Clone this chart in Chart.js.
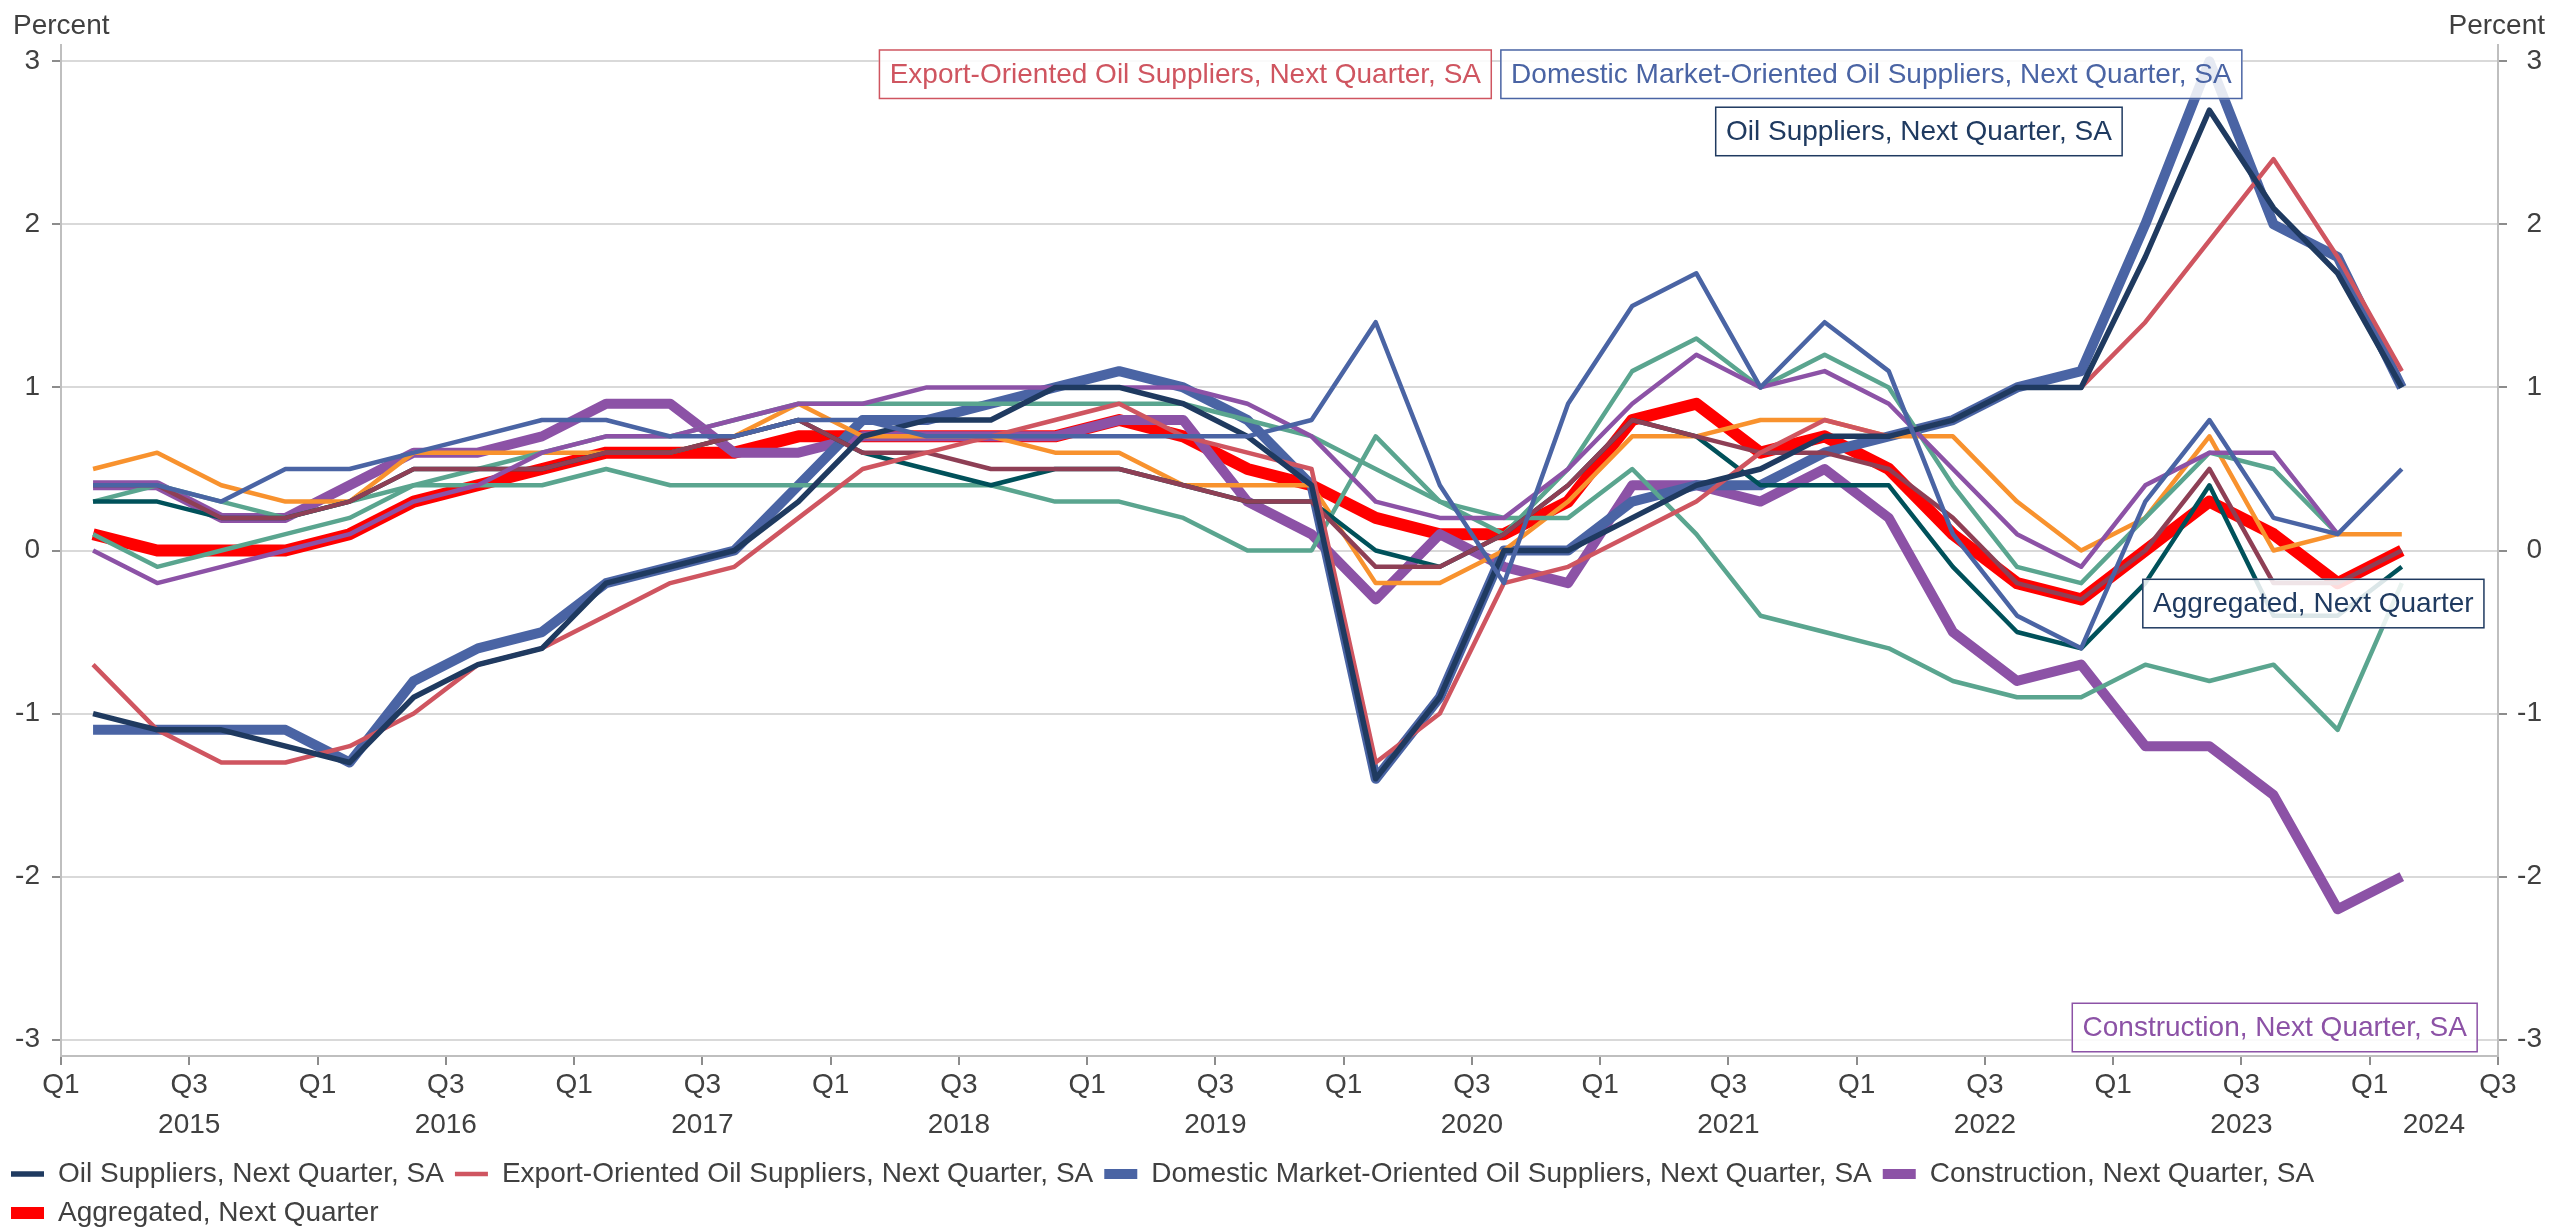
<!DOCTYPE html>
<html>
<head>
<meta charset="utf-8">
<title>Next-quarter expectations, percent</title>
<script src="https://cdn.jsdelivr.net/npm/chart.js@4.4.1/dist/chart.umd.min.js"></script>
<style>
  html, body { margin: 0; padding: 0; background: #fff; }
  canvas { display: block; }
</style>
</head>
<body>
<canvas id="chart" width="2552" height="1228"></canvas>
<script>
// ---------- Data (one value per quarter, 2015Q1 .. 2024Q1) ----------
const QUARTERS = [
  '2015Q1','2015Q2','2015Q3','2015Q4','2016Q1','2016Q2','2016Q3','2016Q4',
  '2017Q1','2017Q2','2017Q3','2017Q4','2018Q1','2018Q2','2018Q3','2018Q4',
  '2019Q1','2019Q2','2019Q3','2019Q4','2020Q1','2020Q2','2020Q3','2020Q4',
  '2021Q1','2021Q2','2021Q3','2021Q4','2022Q1','2022Q2','2022Q3','2022Q4',
  '2023Q1','2023Q2','2023Q3','2023Q4','2024Q1',
];

const OIL_SUPPLIERS = [-1.0,-1.1,-1.1,-1.2,-1.3,-0.9,-0.7,-0.6,-0.2,-0.1, 0.0,0.3,0.7,0.8,0.8,1.0,1.0,0.9,0.7,0.4,
  -1.4,-0.9,0.0,0.0,0.2,0.4,0.5,0.7,0.7,0.8, 1.0,1.0,1.8,2.7,2.1,1.7,1.0];
const EXPORT_OIL = [-0.7,-1.1,-1.3,-1.3,-1.2,-1.0,-0.7,-0.6,-0.4,-0.2, -0.1,0.2,0.5,0.6,0.7,0.8,0.9,0.7,0.6,0.5,
  -1.3,-1.0,-0.2,-0.1,0.1,0.3,0.6,0.8,0.7,0.8, 1.0,1.0,1.4,1.9,2.4,1.8,1.1];
const DOMESTIC_OIL = [-1.1,-1.1,-1.1,-1.1,-1.3,-0.8,-0.6,-0.5,-0.2,-0.1, 0.0,0.4,0.8,0.8,0.9,1.0,1.1,1.0,0.8,0.4,
  -1.4,-0.9,0.0,0.0,0.3,0.4,0.4,0.6,0.7,0.8, 1.0,1.1,2.0,3.0,2.0,1.8,1.0];
const CONSTRUCTION = [0.4,0.4,0.2,0.2,0.4,0.6,0.6,0.7,0.9,0.9, 0.6,0.6,0.7,0.7,0.7,0.7,0.8,0.8,0.3,0.1,
  -0.3,0.1,-0.1,-0.2,0.4,0.4,0.3,0.5,0.2,-0.5, -0.8,-0.7,-1.2,-1.2,-1.5,-2.2,-2.0];
const AGGREGATED = [0.1,0.0,0.0,0.0,0.1,0.3,0.4,0.5,0.6,0.6, 0.6,0.7,0.7,0.7,0.7,0.7,0.8,0.7,0.5,0.4,
  0.2,0.1,0.1,0.3,0.8,0.9,0.6,0.7,0.5,0.1, -0.2,-0.3,0.0,0.3,0.1,-0.2,0.0];

// other sectors shown in the chart without a legend entry
const OTHER_ORANGE = [0.5,0.6,0.4,0.3,0.3,0.6,0.6,0.6,0.6,0.6, 0.7,0.9,0.7,0.7,0.7,0.6,0.6,0.4,0.4,0.4,
  -0.2,-0.2,0.0,0.3,0.7,0.7,0.8,0.8,0.7,0.7, 0.3,0.0,0.2,0.7,0.0,0.1,0.1];
const OTHER_MAROON = [0.4,0.4,0.2,0.2,0.3,0.5,0.5,0.5,0.6,0.6, 0.7,0.8,0.6,0.6,0.5,0.5,0.5,0.4,0.3,0.3,
  -0.1,-0.1,0.1,0.4,0.8,0.7,0.6,0.6,0.5,0.2, -0.2,-0.3,0.0,0.5,-0.2,-0.2,0.0];
const OTHER_DARK_TEAL = [0.3,0.3,0.2,0.2,0.3,0.5,0.5,0.5,0.6,0.6, 0.7,0.8,0.6,0.5,0.4,0.5,0.5,0.4,0.3,0.3,
  0.0,-0.1,0.1,0.4,0.8,0.7,0.4,0.4,0.4,-0.1, -0.5,-0.6,-0.2,0.4,-0.4,-0.4,-0.1];
const OTHER_TEAL_LOW = [0.3,0.4,0.3,0.2,0.3,0.4,0.4,0.4,0.5,0.4, 0.4,0.4,0.4,0.4,0.4,0.3,0.3,0.2,0.0,0.0,
  0.7,0.3,0.2,0.2,0.5,0.1,-0.4,-0.5,-0.6,-0.8, -0.9,-0.9,-0.7,-0.8,-0.7,-1.1,-0.2];
const OTHER_TEAL_HIGH = [0.1,-0.1,0.0,0.1,0.2,0.4,0.5,0.6,0.7,0.7, 0.8,0.9,0.9,0.9,0.9,0.9,0.9,0.9,0.8,0.7,
  0.5,0.3,0.1,0.5,1.1,1.3,1.0,1.2,1.0,0.4, -0.1,-0.2,0.2,0.6,0.5,0.1,null];
const OTHER_PURPLE = [0.0,-0.2,-0.1,0.0,0.1,0.3,0.4,0.6,0.7,0.7, 0.8,0.9,0.9,1.0,1.0,1.0,1.0,1.0,0.9,0.7,
  0.3,0.2,0.2,0.5,0.9,1.2,1.0,1.1,0.9,0.5, 0.1,-0.1,0.4,0.6,0.6,0.1,null];
const OTHER_BLUE = [0.4,0.4,0.3,0.5,0.5,0.6,0.7,0.8,0.8,0.7, 0.7,0.8,0.8,0.7,0.7,0.7,0.7,0.7,0.7,0.8,
  1.4,0.4,-0.2,0.9,1.5,1.7,1.0,1.4,1.1,0.1, -0.4,-0.6,0.3,0.8,0.2,0.1,0.5];

// axis labels
const Q_TICK_LABELS = ['Q1','Q3','Q1','Q3','Q1','Q3','Q1','Q3','Q1','Q3',
  'Q1','Q3','Q1','Q3','Q1','Q3','Q1','Q3','Q1','Q3'];
const YEAR_LABELS = ['2015','2016','2017','2018','2019','2020','2021','2022','2023','2024'];
const Y_TICKS = [-3, -2, -1, 0, 1, 2, 3];

const LEGEND_SERIES = [
  'Oil Suppliers, Next Quarter, SA',
  'Export-Oriented Oil Suppliers, Next Quarter, SA',
  'Domestic Market-Oriented Oil Suppliers, Next Quarter, SA',
  'Construction, Next Quarter, SA',
  'Aggregated, Next Quarter',
];

// ---------- Styling ----------
const FONT = '"Liberation Sans", Arial, sans-serif';
const INK = '#404040';
const COLORS = {
  navy: '#1F3A60',
  coral: '#CF5560',
  blue: '#4A64A4',
  purple: '#8C52A6',
  red: '#FF0000',
  orange: '#F8922E',
  teal: '#5AA58F',
  darkTeal: '#00515A',
  maroon: '#8E3F55',
  grid: '#D9D9D9',
  axis: '#BFBFBF',
  tick: '#8C8C8C',
};

const X_MAX = QUARTERS.length + 1;   // axis runs to the end of 2024Q2

// first dataset is drawn on top
const SERIES = [
  { label: 'Other sector (blue)', data: OTHER_BLUE, color: COLORS.blue, width: 4.5 },
  { label: LEGEND_SERIES[0], data: OIL_SUPPLIERS, color: COLORS.navy, width: 5.5 },
  { label: LEGEND_SERIES[1], data: EXPORT_OIL, color: COLORS.coral, width: 4.5 },
  { label: 'Other sector (purple)', data: OTHER_PURPLE, color: COLORS.purple, width: 4.5 },
  { label: 'Other sector (maroon)', data: OTHER_MAROON, color: COLORS.maroon, width: 4.5 },
  { label: 'Other sector (dark teal)', data: OTHER_DARK_TEAL, color: COLORS.darkTeal, width: 4.5 },
  { label: 'Other sector (teal, upper)', data: OTHER_TEAL_HIGH, color: COLORS.teal, width: 4.5 },
  { label: 'Other sector (teal, lower)', data: OTHER_TEAL_LOW, color: COLORS.teal, width: 4.5 },
  { label: 'Other sector (orange)', data: OTHER_ORANGE, color: COLORS.orange, width: 4.5 },
  { label: LEGEND_SERIES[2], data: DOMESTIC_OIL, color: COLORS.blue, width: 10 },
  { label: LEGEND_SERIES[3], data: CONSTRUCTION, color: COLORS.purple, width: 10 },
  { label: LEGEND_SERIES[4], data: AGGREGATED, color: COLORS.red, width: 12 },
];

// boxed series names placed in data units (quarter index, percent)
const LABEL_BOXES = [
  { text: LEGEND_SERIES[1], color: COLORS.coral, at: [12.75, 3.074] },
  { text: LEGEND_SERIES[2], color: COLORS.blue, at: [22.44, 3.074] },
  { text: LEGEND_SERIES[0], color: COLORS.navy, at: [25.79, 2.723] },
  { text: LEGEND_SERIES[4], color: COLORS.navy, at: [32.45, -0.172] },
  { text: LEGEND_SERIES[3], color: COLORS.purple, at: [31.35, -2.772] },
];

Chart.defaults.font.family = FONT;
Chart.defaults.font.size = 28;
Chart.defaults.color = INK;

const datasets = SERIES.map(s => ({
  label: s.label,
  data: s.data.map((v, i) => ({ x: i + 0.5, y: v })),
  borderColor: s.color,
  backgroundColor: s.color,
  borderWidth: s.width,
  borderJoinStyle: 'round',
  pointRadius: 0,
  pointHoverRadius: 0,
  tension: 0,
  fill: false,
}));

// ---------- Plugins ----------
const unitTitles = {
  id: 'unitTitles',
  afterDraw(chart) {
    const { ctx, chartArea } = chart;
    ctx.save();
    ctx.font = `28px ${FONT}`;
    ctx.fillStyle = INK;
    ctx.textBaseline = 'middle';
    ctx.textAlign = 'left';
    ctx.fillText('Percent', chartArea.left - 48, chartArea.top - 19);
    ctx.textAlign = 'right';
    ctx.fillText('Percent', chart.width - 7, chartArea.top - 19);
    ctx.restore();
  },
};

const seriesBoxes = {
  id: 'seriesBoxes',
  afterDatasetsDraw(chart) {
    const { ctx, scales: { x, y } } = chart;
    const pad = 11, h = 50;
    ctx.save();
    ctx.font = `28px ${FONT}`;
    ctx.textBaseline = 'middle';
    LABEL_BOXES.forEach(b => {
      const left = x.getPixelForValue(b.at[0]);
      const top = y.getPixelForValue(b.at[1]);
      const w = ctx.measureText(b.text).width + 2 * pad;
      ctx.fillStyle = 'rgba(255,255,255,0.86)';
      ctx.fillRect(left, top, w, h);
      ctx.strokeStyle = b.color;
      ctx.lineWidth = 1.5;
      ctx.strokeRect(left + 0.75, top + 0.75, w - 1.5, h - 1.5);
      ctx.fillStyle = b.color;
      ctx.fillText(b.text, left + pad, top + h / 2 + 1);
    });
    ctx.restore();
  },
};

// ---------- Chart ----------
const yAxis = (position, width) => ({
  type: 'linear',
  position,
  min: -3.1,
  max: 3.1,
  afterBuildTicks: s => { s.ticks = Y_TICKS.map(v => ({ value: v })); },
  afterFit: s => { s.width = width; },
  grid: {
    color: COLORS.grid,
    lineWidth: 2,
    tickColor: COLORS.tick,
    tickLength: 9,
    drawOnChartArea: position === 'left',
  },
  border: { color: COLORS.axis, width: 2 },
  ticks: {
    padding: position === 'left' ? 12 : 10,
    crossAlign: position === 'left' ? 'near' : 'far',
    callback: v => String(v),
  },
});

new Chart(document.getElementById('chart'), {
  type: 'line',
  data: { datasets },
  options: {
    responsive: false,
    animation: false,
    devicePixelRatio: 1,
    layout: { padding: { top: 45, right: 10, bottom: -9, left: 0 } },
    plugins: {
      tooltip: { enabled: false },
      legend: {
        position: 'bottom',
        align: 'start',
        labels: {
          usePointStyle: true,
          pointStyleWidth: 33,
          padding: 11,
          color: INK,
          font: { size: 28 },
          generateLabels: chart => LEGEND_SERIES.map(name => {
            const i = chart.data.datasets.findIndex(d => d.label === name);
            const ds = chart.data.datasets[i];
            return {
              text: name,
              datasetIndex: i,
              fillStyle: ds.borderColor,
              strokeStyle: ds.borderColor,
              lineWidth: ds.borderWidth,
              pointStyle: 'line',
              hidden: !chart.isDatasetVisible(i),
              fontColor: INK,
            };
          }),
        },
      },
    },
    scales: {
      x: {
        type: 'linear',
        position: 'bottom',
        min: 0,
        max: X_MAX,
        afterBuildTicks: s => { s.ticks = Q_TICK_LABELS.map((_, i) => ({ value: i * 2 })); },
        afterFit: s => { s.height = 46; },
        grid: {
          drawOnChartArea: false,
          tickLength: 9,
          tickColor: COLORS.tick,
          lineWidth: 2,
        },
        border: { color: COLORS.axis, width: 2 },
        ticks: {
          autoSkip: false,
          maxRotation: 0,
          padding: 3,
          callback: v => Q_TICK_LABELS[v / 2],
        },
      },
      xYear: {
        type: 'linear',
        position: 'bottom',
        min: 0,
        max: X_MAX,
        // each year label sits in the middle of the part of that year shown on the axis
        afterBuildTicks: s => {
          s.ticks = YEAR_LABELS.map((_, k) => ({ value: (4 * k + Math.min(4 * k + 4, X_MAX)) / 2 }));
        },
        afterFit: s => { s.height = 47; },
        grid: { display: false, drawTicks: false },
        border: { display: false },
        ticks: {
          autoSkip: false,
          maxRotation: 0,
          padding: 6,
          callback: (v, i) => YEAR_LABELS[i],
        },
      },
      y: yAxis('left', 61),
      yRight: yAxis('right', 44),
    },
  },
  plugins: [seriesBoxes, unitTitles],
});
</script>
</body>
</html>
